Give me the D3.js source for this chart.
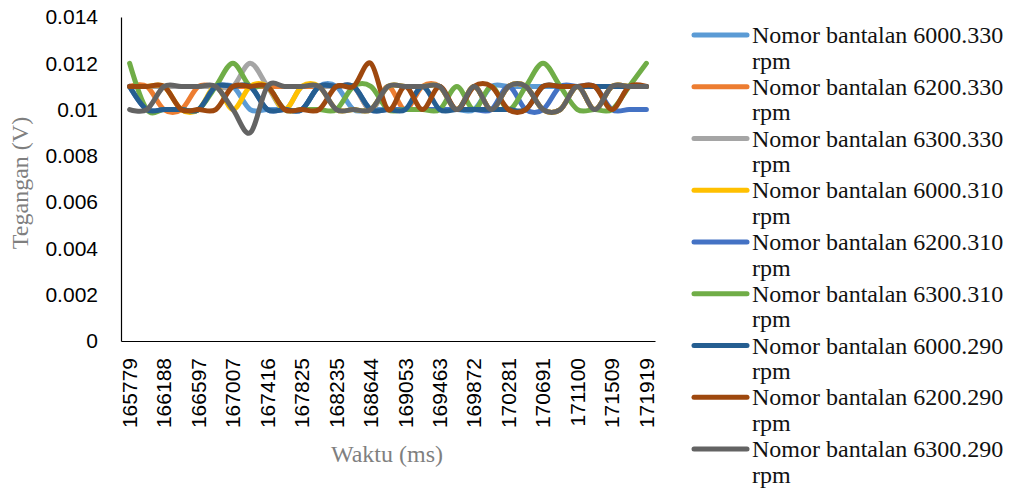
<!DOCTYPE html>
<html>
<head>
<meta charset="utf-8">
<script src="https://cdn.jsdelivr.net/npm/d3@7"></script>
<style>
  html, body { margin: 0; padding: 0; background: #ffffff; }
  svg { display: block; }
</style>
</head>
<body>
<svg id="chart" width="1011" height="492"></svg>
<script>
// ---------- DATA ----------
const categories = ["165779","165984","166188","166393","166597","166802","167007","167211","167416","167621",
  "167825","168030","168235","168439","168644","168849","169053","169258","169463","169667",
  "169872","170077","170281","170486","170691","170895","171100","171305","171509","171714","171919"];

const yTickValues = [0, 0.002, 0.004, 0.006, 0.008, 0.01, 0.012, 0.014];
const yTickLabels = ["0", "0.002", "0.004", "0.006", "0.008", "0.01", "0.012", "0.014"];

const seriesNames = [
  "Nomor bantalan 6000.330 rpm", "Nomor bantalan 6200.330 rpm", "Nomor bantalan 6300.330 rpm",
  "Nomor bantalan 6000.310 rpm", "Nomor bantalan 6200.310 rpm", "Nomor bantalan 6300.310 rpm",
  "Nomor bantalan 6000.290 rpm", "Nomor bantalan 6200.290 rpm", "Nomor bantalan 6300.290 rpm"];

const seriesColors = ["#5B9BD5", "#ED7D31", "#A5A5A5", "#FFC000", "#4472C4", "#70AD47", "#255E91", "#9E480E", "#636363"];

const s6000_330 = [0.011,0.011,0.011,0.011,0.011,0.011,0.011,0.010,0.010,0.010,0.010,0.011,0.011,0.010,0.010,0.010,0.010,0.010,0.010,0.010,0.010,0.011,0.011,0.011,0.011,0.011,0.011,0.011,0.011,0.011,0.011];
const s6200_330 = [0.011,0.011,0.010,0.010,0.011,0.011,0.011,0.011,0.011,0.011,0.011,0.011,0.011,0.011,0.010,0.011,0.010,0.011,0.011,0.010,0.011,0.010,0.011,0.011,0.010,0.010,0.011,0.010,0.011,0.011,0.011];
const s6300_330 = [0.011,0.011,0.011,0.011,0.011,0.011,0.011,0.012,0.011,0.010,0.011,0.011,0.011,0.011,0.010,0.011,0.011,0.011,0.011,0.010,0.011,0.010,0.011,0.011,0.010,0.010,0.011,0.010,0.011,0.011,0.011];
const s6000_310 = [0.011,0.011,0.011,0.010,0.010,0.011,0.010,0.011,0.011,0.010,0.011,0.011,0.010,0.010,0.010,0.011,0.011,0.011,0.011,0.010,0.011,0.010,0.011,0.011,0.010,0.010,0.011,0.010,0.011,0.011,0.011];
const s6200_310 = [0.011,0.010,0.010,0.010,0.010,0.011,0.011,0.011,0.010,0.010,0.010,0.011,0.011,0.011,0.010,0.010,0.010,0.010,0.010,0.010,0.010,0.010,0.011,0.010,0.010,0.011,0.011,0.011,0.010,0.010,0.010];
const s6300_310 = [0.012,0.010,0.010,0.010,0.010,0.011,0.012,0.011,0.011,0.010,0.010,0.010,0.010,0.011,0.011,0.010,0.010,0.010,0.010,0.011,0.010,0.011,0.010,0.011,0.012,0.011,0.010,0.010,0.010,0.011,0.012];
const s6000_290 = [0.011,0.010,0.010,0.010,0.010,0.011,0.011,0.011,0.010,0.010,0.010,0.011,0.011,0.011,0.010,0.010,0.010,0.011,0.010,0.010,0.010,0.010,0.010,0.010,0.011,0.011,0.011,0.011,0.011,0.011,0.011];
const s6200_290 = [0.011,0.011,0.011,0.010,0.010,0.010,0.011,0.011,0.011,0.010,0.010,0.010,0.011,0.011,0.012,0.010,0.011,0.010,0.011,0.010,0.011,0.011,0.010,0.010,0.011,0.011,0.011,0.011,0.010,0.011,0.011];
const s6300_290 = [0.010,0.010,0.011,0.011,0.011,0.011,0.010,0.009,0.011,0.011,0.011,0.011,0.010,0.010,0.010,0.011,0.011,0.011,0.011,0.010,0.011,0.010,0.011,0.011,0.010,0.010,0.011,0.010,0.011,0.011,0.011];

const seriesValues = [s6000_330, s6200_330, s6300_330, s6000_310, s6200_310, s6300_310, s6000_290, s6200_290, s6300_290];

// ---------- CHART ----------
const svg = d3.select("#chart");
const plot = { left: 121, right: 655, top: 17, bottom: 341 };

const x = d3.scaleBand().domain(categories).range([plot.left, plot.right]).padding(0);
const y = d3.scaleLinear().domain([0, 0.014]).range([plot.bottom, plot.top]);

// Y axis
const yAxis = d3.axisLeft(y)
  .tickValues(yTickValues)
  .tickFormat((d, i) => yTickLabels[i])
  .tickSize(0)
  .tickPadding(23);
const gy = svg.append("g").attr("transform", `translate(${plot.left},0)`).call(yAxis);
gy.select(".domain").attr("stroke", "#000").attr("stroke-width", 1.2);
gy.selectAll("text")
  .attr("font-family", "'Liberation Sans', Arial, sans-serif")
  .attr("font-size", 21)
  .attr("fill", "#000");

// X axis
const xAxis = d3.axisBottom(x)
  .tickValues(categories.filter((d, i) => i % 2 === 0))
  .tickSize(0)
  .tickPadding(0);
const gx = svg.append("g").attr("transform", `translate(0,${plot.bottom})`).call(xAxis);
gx.select(".domain").attr("stroke", "#000").attr("stroke-width", 1.2);
gx.selectAll("text")
  .attr("font-family", "'Liberation Sans', Arial, sans-serif")
  .attr("font-size", 21)
  .attr("fill", "#000")
  .attr("text-anchor", "end")
  .attr("y", 0).attr("x", 0)
  .attr("dy", "0.35em")
  .attr("transform", "translate(0,17) rotate(-90)");

// Lines
const line = d3.line()
  .x((d, i) => x(categories[i]) + x.bandwidth() / 2)
  .y(d => y(d))
  .curve(d3.curveCatmullRom.alpha(0));

svg.append("g").selectAll("path")
  .data(seriesValues)
  .join("path")
  .attr("d", d => line(d))
  .attr("fill", "none")
  .attr("stroke", (d, i) => seriesColors[i])
  .attr("stroke-width", 5)
  .attr("stroke-linecap", "round")
  .attr("stroke-linejoin", "round");

// Axis titles
svg.append("text")
  .attr("transform", "translate(28,183) rotate(-90)")
  .attr("text-anchor", "middle")
  .attr("font-family", "'Liberation Serif', 'Times New Roman', serif")
  .attr("font-size", 24)
  .attr("fill", "#7f7f7f")
  .text("Tegangan (V)");

svg.append("text")
  .attr("x", 387).attr("y", 462)
  .attr("text-anchor", "middle")
  .attr("font-family", "'Liberation Serif', 'Times New Roman', serif")
  .attr("font-size", 24)
  .attr("fill", "#7f7f7f")
  .text("Waktu (ms)");

// Legend
const legend = svg.append("g");
const legendStep = 51.75;
seriesNames.forEach((name, i) => {
  const ly = 35 + i * legendStep;
  legend.append("line")
    .attr("x1", 694).attr("x2", 747)
    .attr("y1", ly).attr("y2", ly)
    .attr("stroke", seriesColors[i])
    .attr("stroke-width", 5)
    .attr("stroke-linecap", "round");
  const parts = name.split(" rpm");
  const t = legend.append("text")
    .attr("font-family", "'Liberation Serif', 'Times New Roman', serif")
    .attr("font-size", 24)
    .attr("fill", "#111");
  t.append("tspan").attr("x", 752).attr("y", ly + 8).text(parts[0]);
  t.append("tspan").attr("x", 752).attr("y", ly + 8 + 25.7).text("rpm");
});
</script>
</body>
</html>
